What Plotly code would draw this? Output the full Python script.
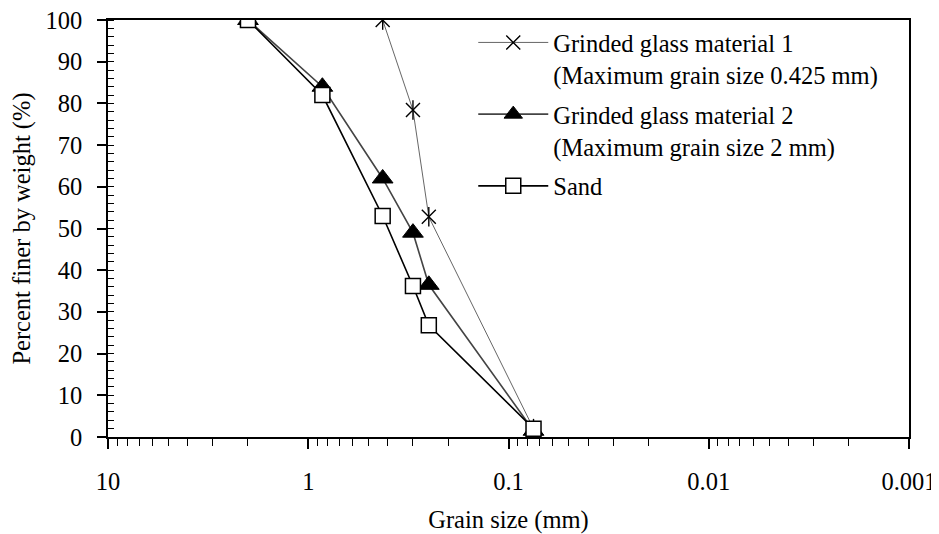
import plotly.graph_objects as go

# Data
glass1_size = [0.425, 0.3, 0.25, 0.075]
glass1_pct = [100, 78.4, 52.8, 2]

glass2_size = [2, 0.85, 0.425, 0.3, 0.25, 0.075]
glass2_pct = [100, 84, 62, 49, 36.5, 1.5]

sand_size = [2, 0.85, 0.425, 0.3, 0.25, 0.075]
sand_pct = [100, 82, 53, 36.2, 26.8, 2]

x_tickvals = [10, 1, 0.1, 0.01, 0.001]
x_ticktext = ["10", "1", "0.1", "0.01", "0.001"]

FONT = "Liberation Serif"
FS = 24.5

fig = go.Figure()

fig.add_trace(go.Scatter(
    x=glass1_size, y=glass1_pct, mode="lines+markers",
    name="Grinded glass material 1<br>(Maximum grain size 0.425 mm)",
    legendgroup="g1",
    line=dict(color="#555555", width=0.9),
    marker=dict(symbol="x-thin-open", size=14, color="black",
                line=dict(color="black", width=1.4)),
))
fig.add_trace(go.Scatter(
    x=glass1_size, y=glass1_pct, mode="markers", showlegend=False,
    legendgroup="g1",
    marker=dict(symbol="line-ns-open", size=14, color="black",
                line=dict(color="black", width=1.4)),
    hoverinfo="skip",
))
fig.add_trace(go.Scatter(
    x=glass2_size, y=glass2_pct, mode="lines+markers",
    name="Grinded glass material 2<br>(Maximum grain size 2 mm)",
    legendgroup="g2",
    line=dict(color="#444444", width=1.6),
    marker=dict(symbol="triangle-up", size=18, color="black",
                line=dict(color="black", width=1)),
))
fig.add_trace(go.Scatter(
    x=sand_size, y=sand_pct, mode="lines+markers",
    name="Sand",
    legendgroup="g3",
    line=dict(color="black", width=1.6),
    marker=dict(symbol="square", size=15, color="white",
                line=dict(color="black", width=1.5)),
))

fig.update_layout(
    width=931, height=526,
    margin=dict(l=100, r=30, t=12, b=97, autoexpand=False),
    paper_bgcolor="white", plot_bgcolor="white",
    font=dict(family=FONT, size=FS, color="black"),
    showlegend=True,
    legend=dict(
        x=0.456, y=1.0, xanchor="left", yanchor="top",
        bgcolor="rgba(0,0,0,0)", borderwidth=0,
        font=dict(family=FONT, size=FS, color="black"),
        valign="top", traceorder="grouped", tracegroupgap=5, itemwidth=70,
    ),
    xaxis=dict(
        type="log", range=[1, -3], automargin=False,
        tickvals=x_tickvals, ticktext=x_ticktext,
        ticks="outside", ticklen=10, tickwidth=1.5, tickcolor="black",
        showline=True, linecolor="black", linewidth=1.5, mirror=True,
        showgrid=False, zeroline=False,
        ticklabelstandoff=12, ticklabeloverflow="allow",
        minor=dict(ticks="outside", ticklen=7, tickwidth=1.2, tickcolor="black",
                   dtick="D1", showgrid=False),
        title=dict(text="Grain size (mm)", font=dict(family=FONT, size=FS), standoff=19),
        tickfont=dict(family=FONT, size=FS),
    ),
    xaxis2=dict(
        type="log", range=[1, -3], overlaying="x", anchor="y", side="bottom",
        automargin=False,
        tickvals=x_tickvals, ticks="inside", ticklen=7, tickwidth=1.5, tickcolor="black",
        showticklabels=False, showline=False, showgrid=False, zeroline=False,
    ),
    yaxis=dict(
        range=[0, 100], dtick=10, automargin=False,
        ticks="outside", ticklen=9, tickwidth=1.5, tickcolor="black",
        showline=True, linecolor="black", linewidth=1.5, mirror=True,
        showgrid=False, zeroline=False,
        ticklabelstandoff=10, ticklabeloverflow="allow",
        minor=dict(ticks="inside", ticklen=6, tickwidth=1.2, tickcolor="black",
                   dtick=2, showgrid=False),
        title=dict(text="Percent finer by weight (%)", font=dict(family=FONT, size=FS), standoff=13),
        tickfont=dict(family=FONT, size=FS),
    ),
)

fig.write_html("out.html")
